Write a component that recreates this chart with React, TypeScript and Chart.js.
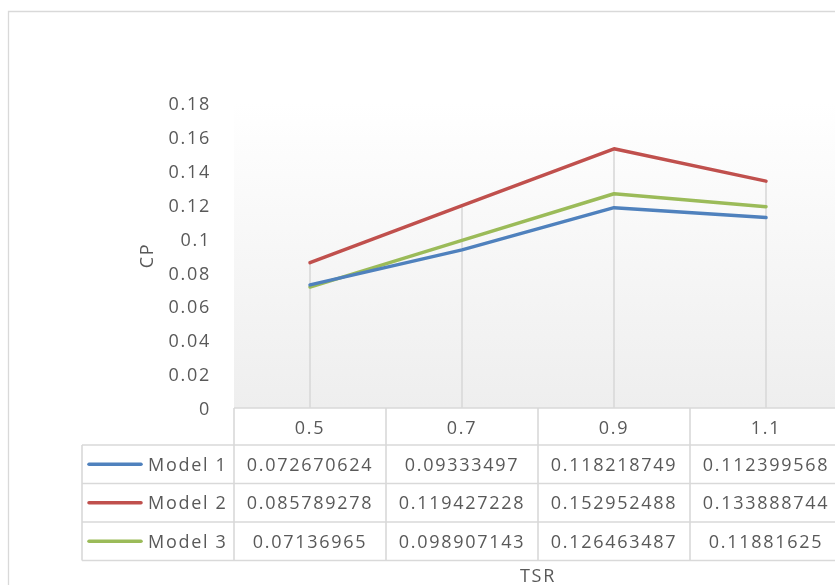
import React, { useEffect, useRef } from 'react';
import { Chart, registerables } from 'chart.js';

Chart.register(...registerables);

// ---- data ----
const categories = ['0.5', '0.7', '0.9', '1.1'];
const seriesNames = ['Model 1', 'Model 2', 'Model 3'];
const model1 = [0.072670624, 0.09333497, 0.118218749, 0.112399568];
const model2 = [0.085789278, 0.119427228, 0.152952488, 0.133888744];
const model3 = [0.07136965, 0.098907143, 0.126463487, 0.11881625];
const seriesColors = ['#4F81BD', '#C0504D', '#9BBB59'];
const yMin = 0;
const yMax = 0.18;
const yStep = 0.02;
const xTitle = 'TSR';
const yTitle = 'CP';

const seriesValues = [model1, model2, model3];

const FONT = '"Open Sans", "Liberation Sans", sans-serif';
const TEXT = '#595959';
const LINE = '#d9d9d9';

const excelPlugin = {
  id: 'excelExtras',
  beforeDraw(chart: any) {
    const { ctx, chartArea: ca } = chart;
    ctx.save();
    ctx.strokeStyle = LINE;
    ctx.lineWidth = 1.3;
    ctx.beginPath();
    ctx.moveTo(8.5, chart.height);
    ctx.lineTo(8.5, 11.5);
    ctx.lineTo(chart.width, 11.5);
    ctx.stroke();
    const g = ctx.createLinearGradient(0, ca.top, 0, ca.bottom);
    g.addColorStop(0, '#ffffff');
    g.addColorStop(1, '#eeeeee');
    ctx.fillStyle = g;
    ctx.fillRect(ca.left, ca.top, ca.right - ca.left, ca.bottom - ca.top);
    ctx.restore();
    ctx.letterSpacing = '1.7px';
  },
  beforeDatasetsDraw(chart: any) {
    const { ctx, chartArea: ca } = chart;
    const xs = chart.scales.x;
    const ys = chart.scales.y;
    ctx.save();
    ctx.strokeStyle = LINE;
    ctx.lineWidth = 1.6;
    categories.forEach((_, i) => {
      const top = Math.max(...seriesValues.map((s) => s[i]));
      const x = xs.getPixelForValue(i);
      ctx.beginPath();
      ctx.moveTo(x, ys.getPixelForValue(top));
      ctx.lineTo(x, ca.bottom);
      ctx.stroke();
    });
    ctx.restore();
  },
  afterDraw(chart: any) {
    const { ctx, chartArea: ca } = chart;
    const xs = chart.scales.x;
    const n = categories.length;
    const band = (ca.right - ca.left) / n;
    const tableLeft = 82;
    const headerH = 37;
    const rowH = 38.5;
    const y0 = ca.bottom;
    const rows = [y0, y0 + headerH];
    for (let r = 0; r < seriesNames.length; r++) rows.push(rows[rows.length - 1] + rowH);
    const yEnd = rows[rows.length - 1];

    ctx.save();
    ctx.strokeStyle = LINE;
    ctx.lineWidth = 1.6;
    ctx.beginPath();
    ctx.moveTo(ca.left, y0);
    ctx.lineTo(ca.right, y0);
    for (let r = 1; r < rows.length; r++) {
      ctx.moveTo(tableLeft, rows[r]);
      ctx.lineTo(ca.right, rows[r]);
    }
    for (let c = 0; c <= n; c++) {
      const x = ca.left + band * c;
      ctx.moveTo(x, y0);
      ctx.lineTo(x, yEnd);
    }
    ctx.moveTo(tableLeft, rows[1]);
    ctx.lineTo(tableLeft, yEnd);
    ctx.stroke();

    ctx.letterSpacing = '1.7px';
    ctx.font = `18px ${FONT}`;
    ctx.fillStyle = TEXT;
    ctx.textBaseline = 'middle';
    ctx.textAlign = 'center';
    categories.forEach((c, i) => {
      ctx.fillText(c, xs.getPixelForValue(i), (rows[0] + rows[1]) / 2 + 2);
    });
    seriesNames.forEach((name, r) => {
      const cy = (rows[r + 1] + rows[r + 2]) / 2 + 1.5;
      ctx.strokeStyle = seriesColors[r];
      ctx.lineWidth = 3.5;
      ctx.lineCap = 'round';
      ctx.beginPath();
      ctx.moveTo(89, cy - 1.5);
      ctx.lineTo(141, cy - 1.5);
      ctx.stroke();
      ctx.textAlign = 'left';
      ctx.fillText(name, 148, cy);
      ctx.textAlign = 'center';
      seriesValues[r].forEach((v, i) => {
        ctx.fillText(String(v), xs.getPixelForValue(i), cy);
      });
    });
    ctx.fillText(xTitle, (ca.left + ca.right) / 2, 577);
    ctx.restore();
  },
};

export default function App() {
  const ref = useRef<HTMLCanvasElement | null>(null);
  useEffect(() => {
    const canvas = ref.current;
    if (!canvas) return;
    const chart = new Chart(canvas, {
      type: 'line',
      data: {
        labels: categories,
        datasets: seriesNames.map((name, i) => ({
          label: name,
          data: seriesValues[i],
          borderColor: seriesColors[i],
          backgroundColor: seriesColors[i],
          borderWidth: 3.5,
          pointRadius: 0,
          pointHoverRadius: 0,
          tension: 0,
          fill: false,
          borderCapStyle: 'round',
          borderJoinStyle: 'round',
        })),
      },
      options: {
        responsive: false,
        maintainAspectRatio: false,
        animation: false,
        devicePixelRatio: 1,
        layout: { padding: { left: 0, top: 103, right: 58, bottom: 177 } },
        plugins: { legend: { display: false }, tooltip: { enabled: false } },
        scales: {
          x: {
            type: 'category',
            offset: true,
            display: false,
          },
          y: {
            min: yMin,
            max: yMax,
            grid: { display: false, drawTicks: false },
            border: { display: false },
            ticks: {
              stepSize: yStep,
              padding: 23,
              labelOffset: 2,
              color: TEXT,
              font: { family: FONT, size: 18 },
              callback: (v: any) => String(Number(Number(v).toFixed(2))),
            },
            title: {
              display: true,
              text: yTitle,
              color: TEXT,
              font: { family: FONT, size: 18 },
              padding: { top: 137, bottom: 0 },
            },
            afterFit: (scale: any) => {
              scale.width = 234;
            },
          },
        },
      },
      plugins: [excelPlugin],
    } as any);
    return () => chart.destroy();
  }, []);
  return (
    <div
      style={{
        position: 'fixed',
        left: 0,
        top: 0,
        width: 835,
        height: 585,
        overflow: 'hidden',
        background: '#fff',
      }}
    >
      <canvas ref={ref} width={900} height={585} style={{ display: 'block', width: 900, height: 585 }} />
    </div>
  );
}
